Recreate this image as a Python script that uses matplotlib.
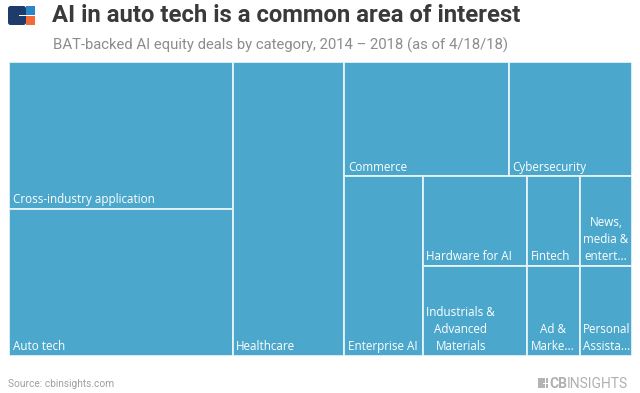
import matplotlib
matplotlib.use("Agg")
import matplotlib.pyplot as plt
from matplotlib.patches import Rectangle, FancyBboxPatch

# deal counts by category
categories = ["Cross-industry application", "Auto tech", "Healthcare", "Commerce",
              "Cybersecurity", "Enterprise AI", "Hardware for AI",
              "Industrials & Advanced Materials", "Fintech",
              "News, media & entertainment", "Ad & Marketing", "Personal Assistant"]
deals = [7, 7, 7, 4, 3, 3, 2, 2, 1, 1, 1, 1]
labels = ["Cross-industry application", "Auto tech", "Healthcare", "Commerce",
          "Cybersecurity", "Enterprise AI", "Hardware for AI",
          "Industrials &\nAdvanced\nMaterials", "Fintech",
          "News,\nmedia &\nentert...", "Ad &\nMarke...", "Personal\nAssista..."]

# nesting of the tiles: 'h' = side by side, 'v' = stacked
tree = ("h", [("v", [0, 1]), 2,
              ("v", [("h", [3, 4]),
                     ("h", [5, ("v", [6, 7]),
                            ("v", [("h", [8, 9]), ("h", [10, 11])])])])])

FILL = "#4ba8cc"
EDGE = "#e6f3f8"


def total(node):
    if isinstance(node, int):
        return deals[node]
    return sum(total(c) for c in node[1])


def layout(node, x, y, w, h, out):
    if isinstance(node, int):
        out[node] = (x, y, w, h)
        return
    d, kids = node
    s = total(node)
    for k in kids:
        f = total(k) / s
        if d == "h":
            layout(k, x, y, w * f, h, out)
            x += w * f
        else:
            layout(k, x, y, w, h * f, out)
            y += h * f


W, H = 640, 393
fig = plt.figure(figsize=(W / 100, H / 100), dpi=100)

# header / footer in pixel coordinates
bg = fig.add_axes([0, 0, 1, 1])
bg.set_xlim(0, W)
bg.set_ylim(H, 0)
bg.axis("off")

bg.add_patch(FancyBboxPatch((8, 6), 18, 19, boxstyle="round,pad=0,rounding_size=2.5",
                            fc="#1d3c6b", ec="none"))
bg.add_patch(Rectangle((26, 6), 9, 9, fc="#2b86c8", ec="none"))
bg.add_patch(Rectangle((26, 16), 9, 9, fc="#f26a36", ec="none"))
bg.add_patch(Rectangle((19, 14.8), 16, 1.0, fc="white", ec="none"))
bg.add_patch(Rectangle((25.5, 6), 0.9, 19, fc="white", ec="none"))

bg.text(52, 16, "AI in auto tech is a common area of interest", fontsize=17.2,
        fontweight="bold", family="Roboto", color="#3a3a3a", va="center", ha="left")
bg.text(53, 45, "BAT-backed AI equity deals by category, 2014 \u2013 2018 (as of 4/18/18)",
        fontsize=10.7, family="Roboto", color="#8c8c8c", va="center", ha="left")
bg.text(8, 384, "Source: cbinsights.com", fontsize=7.3, family="Roboto",
        color="#a0a0a0", va="center", ha="left")

# small CB Insights mark bottom right
bg.add_patch(Rectangle((538, 378), 10, 10, fc="#b3b3b3", ec="none"))
bg.add_patch(Rectangle((543, 382.6), 6, 0.9, fc="white", ec="none"))
bg.add_patch(Rectangle((544.6, 378), 0.9, 10, fc="white", ec="none"))
bg.text(549.5, 383.5, "CB", fontsize=10, fontweight="bold", family="Roboto",
        color="#b0b0b0", va="center", ha="left")
bg.text(567, 383.5, "INSIGHTS", fontsize=10, family="Roboto",
        color="#b0b0b0", va="center", ha="left")

# treemap
x0, y0, x1, y1 = 9, 62, 632, 356
ax = fig.add_axes([x0 / W, 1 - y1 / H, (x1 - x0) / W, (y1 - y0) / H])
ax.set_xlim(0, 1)
ax.set_ylim(1, 0)
ax.axis("off")

rects = {}
layout(tree, 0, 0, 1, 1, rects)
for i, lab in enumerate(labels):
    x, y, w, h = rects[i]
    ax.add_patch(Rectangle((x, y), w, h, fc=FILL, ec=EDGE, lw=1.3))
    multi = "\n" in lab
    ax.annotate(lab, (x, y + h), xytext=(2.6, 2.0), textcoords="offset points",
                ha="left", va="bottom", fontsize=8.4, family="Open Sans",
                color="white", multialignment="center" if multi else "left",
                linespacing=1.4)

fig.savefig("out.png", dpi=100)
